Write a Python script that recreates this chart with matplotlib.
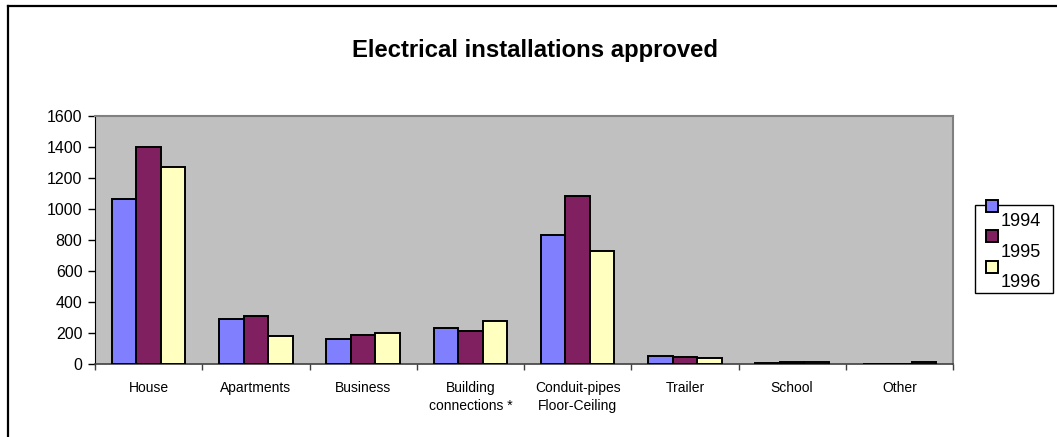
import numpy as np
import matplotlib
matplotlib.use('Agg')
import matplotlib.pyplot as plt
from matplotlib.lines import Line2D
from matplotlib.patches import Rectangle
from matplotlib.transforms import Affine2D

plt.rcParams['font.family'] = ['Liberation Sans', 'DejaVu Sans']

categories = ['House', 'Apartments', 'Business', 'Building\nconnections *',
              'Conduit-pipes\nFloor-Ceiling', 'Trailer', 'School', 'Other']
years = ['1994', '1995', '1996']
v1994 = [1065, 288, 163, 230, 833, 50, 8, 0]
v1995 = [1396, 311, 185, 211, 1083, 47, 10, 0]
v1996 = [1267, 182, 202, 275, 730, 41, 15, 13]
colors = ['#8080FF', '#802060', '#FFFFC0']

W, H = 1057, 437
fig = plt.figure(figsize=(W / 100, H / 100), dpi=100)
fig.patch.set_facecolor('white')

# outer chart frame (only left and top edges visible)
fig.add_artist(Line2D([8 / W, 8 / W], [0, 1 - 6 / H], transform=fig.transFigure, color='black', lw=1.6))
fig.add_artist(Line2D([8 / W, 1], [1 - 6 / H, 1 - 6 / H], transform=fig.transFigure, color='black', lw=1.6))

ax = fig.add_axes([95 / W, 73 / H, (953 - 95) / W, (364 - 115.7) / H])
ax.set_facecolor('#C0C0C0')

x = np.arange(len(categories))
bw = 0.228
for j, (vals, c, yr) in enumerate(zip([v1994, v1995, v1996], colors, years)):
    ax.bar(x + (j - 1) * bw, vals, width=bw, color=c, edgecolor='black', linewidth=1.4, label=yr, zorder=3)

ax.set_xlim(-0.5, len(categories) - 0.5)
ax.set_ylim(0, 1600)
ax.set_yticks(np.arange(0, 1601, 200))
ax.tick_params(axis='y', direction='out', length=5, width=1, labelsize=11.5, pad=4, colors='black')

ax.set_xticks(x)
ax.set_xticklabels(categories, fontsize=10, linespacing=1.35)
ax.set_xticks(np.arange(-0.5, len(categories), 1), minor=True)
ax.tick_params(axis='x', which='major', length=0, pad=12)
ax.tick_params(axis='x', which='minor', direction='out', length=4, width=1, colors='#404040')

for s in ['top', 'right']:
    ax.spines[s].set_color('#808080')
    ax.spines[s].set_linewidth(1.5)
ax.spines['left'].set_color('black')
ax.spines['bottom'].set_color('#404040')
ax.spines['bottom'].set_linewidth(1.2)

fig.text(535 / W, 1 - 51 / H, 'Electrical installations approved', ha='center', va='center',
         fontsize=17.2, fontweight='bold')

# legend: frame drawn separately, Excel-style markers sit above their labels
fig.add_artist(Rectangle((975 / W, 1 - 293 / H), 78 / W, 88 / H, transform=fig.transFigure,
                         fill=False, edgecolor='black', linewidth=1, zorder=4))
handles, labels = ax.get_legend_handles_labels()
leg = fig.legend(handles, labels, loc='upper left', bbox_to_anchor=(986 / W, 1 - 200 / H),
                 frameon=False, fontsize=13, handlelength=0.65, handleheight=0.65,
                 handletextpad=0.15, labelspacing=0.75, borderpad=0, borderaxespad=0)
leg.set_zorder(5)
for t in leg.get_texts():
    t.set_transform(t.get_transform() + Affine2D().translate(0, -13))
for h in leg.legend_handles:
    h.set_transform(h.get_data_transform() + Affine2D().translate(0, 1))

fig.savefig('out.png', dpi=100)
